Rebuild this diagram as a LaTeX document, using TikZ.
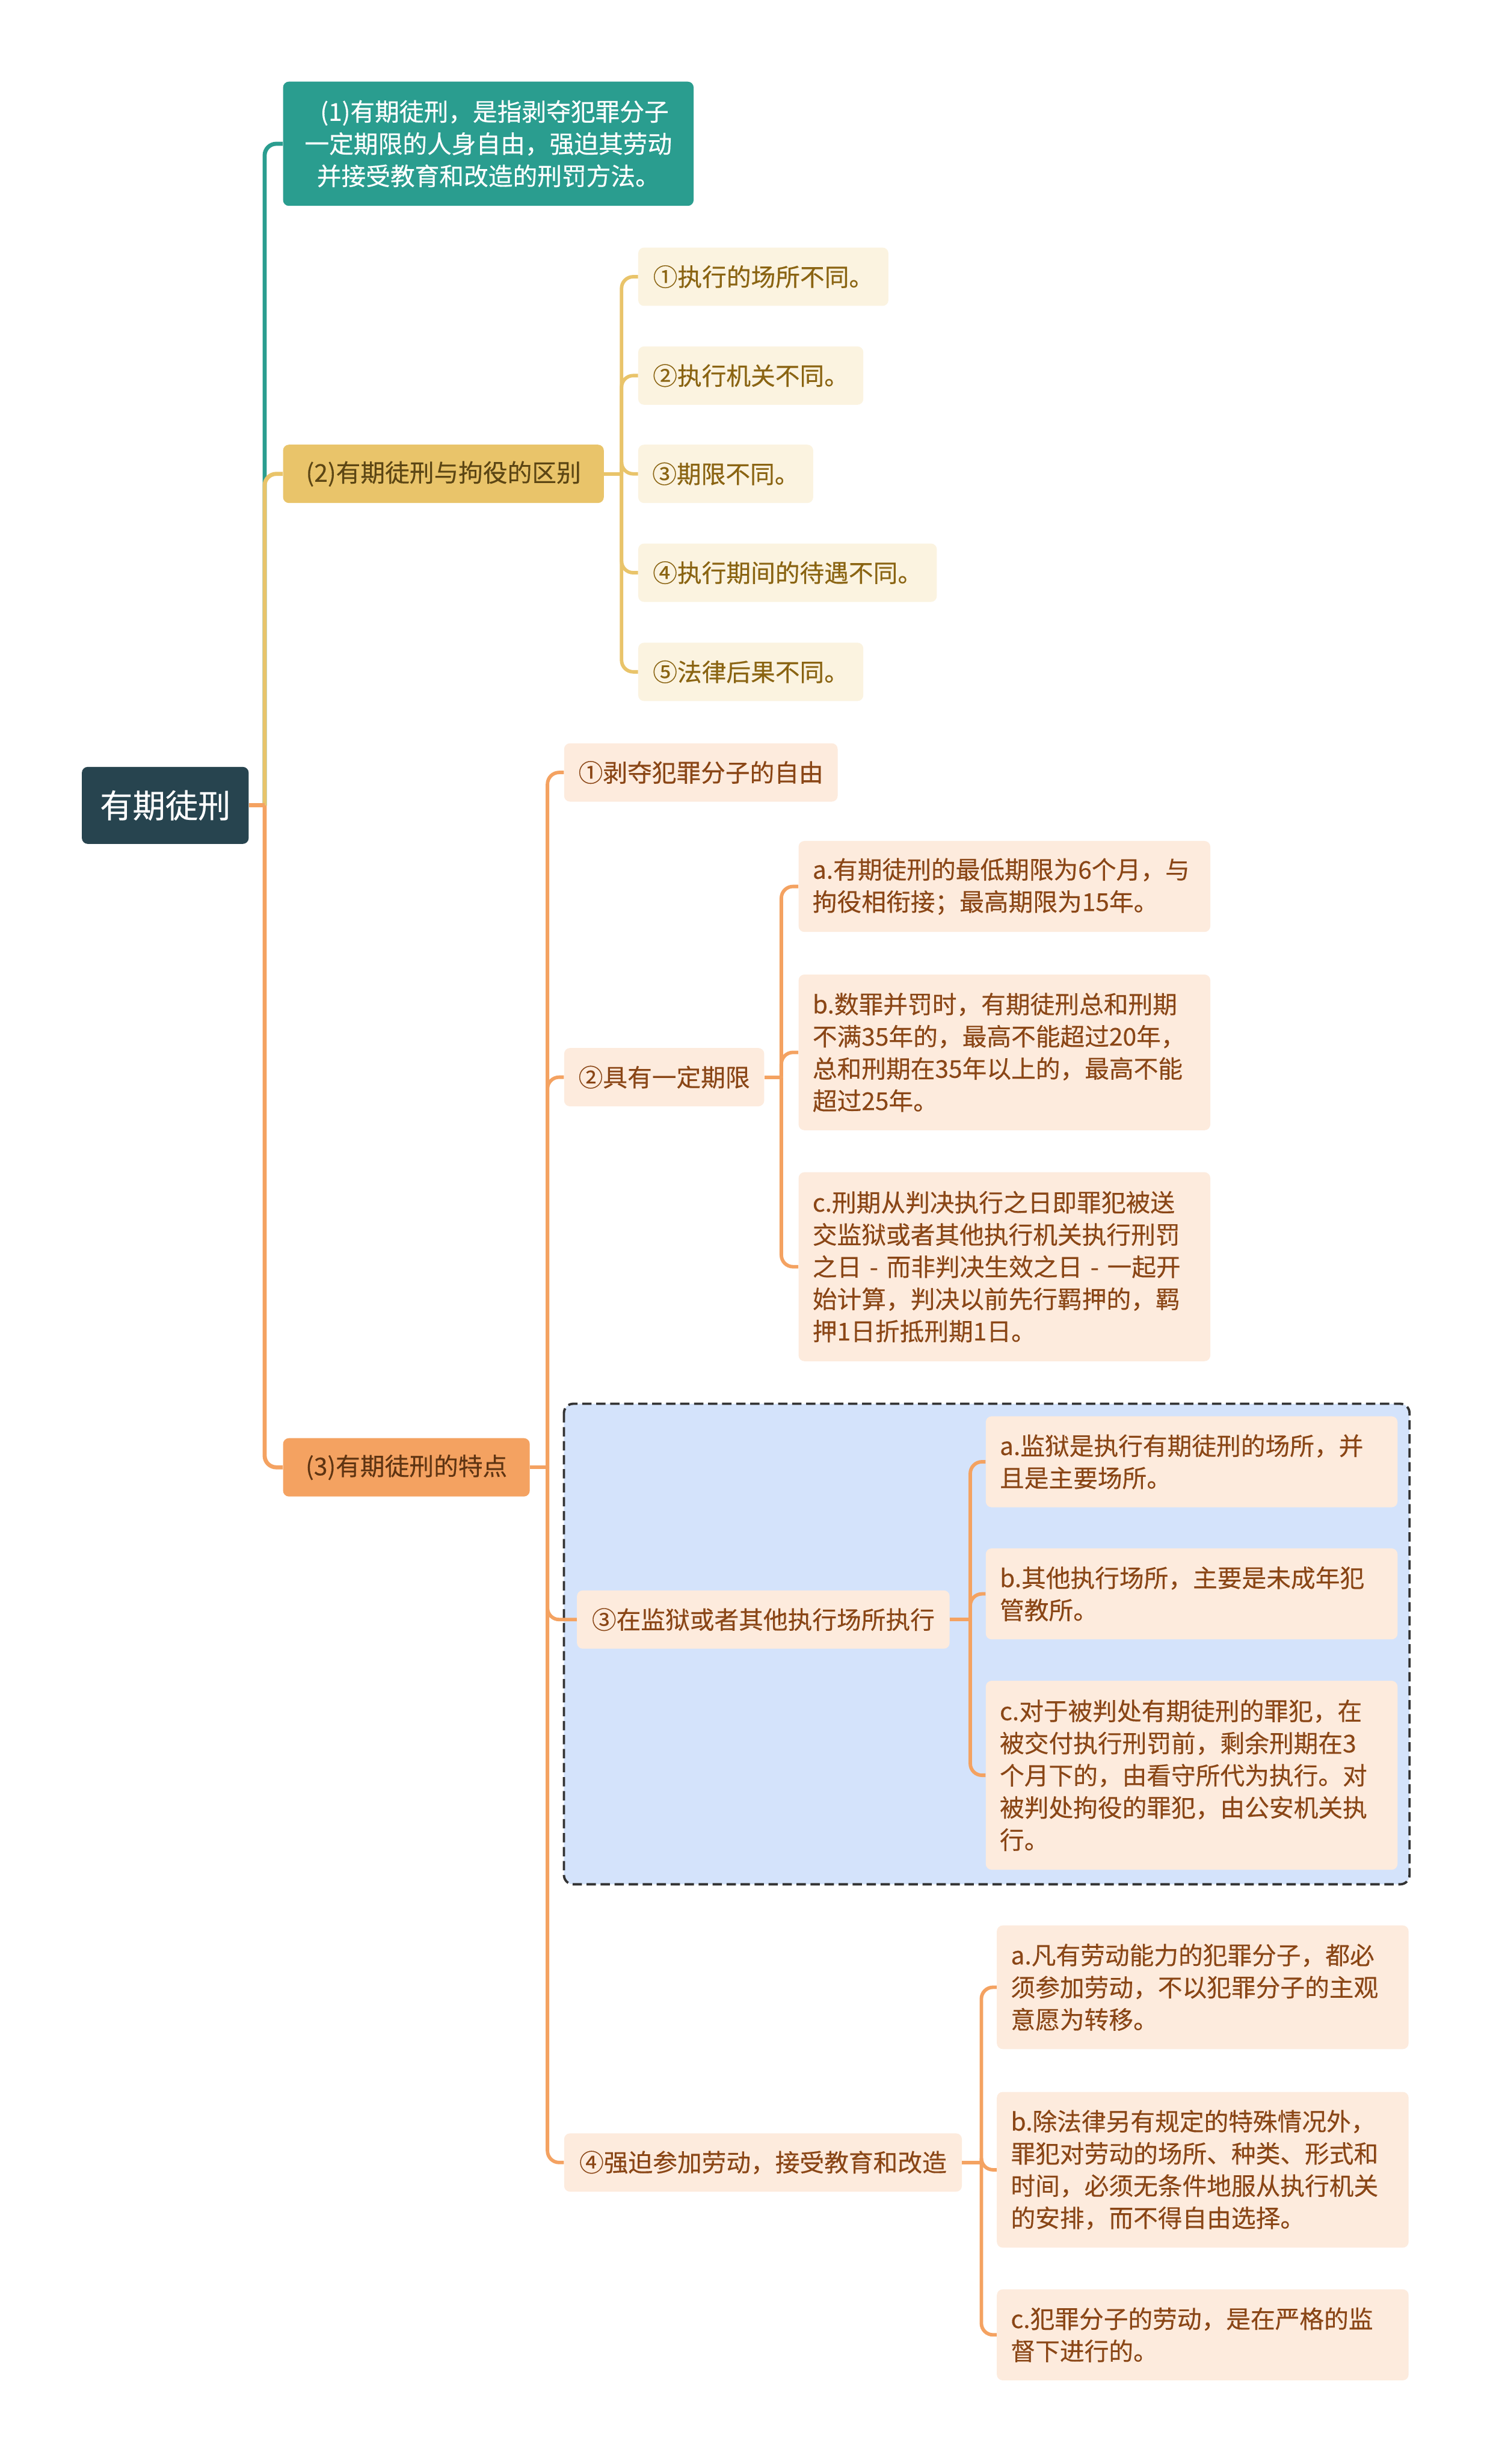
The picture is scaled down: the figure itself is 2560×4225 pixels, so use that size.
\documentclass[tikz,border=0pt]{standalone}
\usepackage{fontspec}
\setmainfont{Noto Sans CJK SC}[FakeBold=0.3]
\usepackage{xcolor}
\usetikzlibrary{positioning, calc}

\definecolor{rootc}{HTML}{27444F}
\definecolor{tealc}{HTML}{2A9D8F}
\definecolor{goldc}{HTML}{E9C46A}
\definecolor{orangec}{HTML}{F4A261}
\definecolor{creamc}{HTML}{FBF3E0}
\definecolor{peachc}{HTML}{FDEBDD}
\definecolor{goldtxt}{HTML}{5C4614}
\definecolor{creamtxt}{HTML}{8A6412}
\definecolor{orangetxt}{HTML}{5E3412}
\definecolor{peachtxt}{HTML}{8A4616}
\definecolor{groupc}{HTML}{D4E3FB}
\definecolor{framec}{HTML}{333333}

\begin{document}
\begin{tikzpicture}[
    x=0.5pt, y=-0.5pt,
    base/.style={rectangle, rounded corners=5pt, inner xsep=12pt, inner ysep=0pt, anchor=west,
                 font=\fontsize{21}{27.6}\selectfont},
    rootbox/.style={base, fill=rootc, text=white, font=\fontsize{28}{34}\selectfont,
                    minimum width=143pt, minimum height=66pt},
    tealbox/.style={base, fill=tealc, text=white, align=center, text width=328pt, minimum height=106.5pt},
    goldbox/.style={base, fill=goldc, text=goldtxt, minimum width=275pt, minimum height=50pt},
    orangebox/.style={base, fill=orangec, text=orangetxt, minimum width=211.5pt, minimum height=50pt},
    creambox/.style={base, fill=creamc, text=creamtxt, minimum height=50pt},
    peachbox/.style={base, fill=peachc, text=peachtxt, minimum height=50pt},
    leaf/.style={peachbox, align=left, text width=329pt},
    lines2/.style={minimum height=78pt},
    lines3/.style={minimum height=106pt},
    lines4/.style={minimum height=133.5pt},
    lines5/.style={minimum height=162pt},
    link/.style={line width=3.5pt, rounded corners=10pt},
    sublink/.style={line width=3pt, rounded corners=10pt},
    groupbox/.style={draw=framec, fill=groupc, line width=2pt, dash pattern=on 8pt off 4pt, rounded corners=8pt}
]
\fill[white] (0,0) rectangle (2560,4225);

% frame round item 3
\draw[groupbox] (967,2407) rectangle (2417,3231);

% root and main branches
\node[rootbox] (root) at (140,1381) {有期徒刑};
\node[tealbox] (d1) at (485,246.5) {\hspace*{0.5em}(1)有期徒刑，是指剥夺犯罪分子\\一定期限的人身自由，强迫其劳动\\并接受教育和改造的刑罚方法。};
\node[goldbox] (d2) at (485,812.5) {(2)有期徒刑与拘役的区别};
\node[orangebox] (d3) at (485,2516) {(3)有期徒刑的特点};

% differences
\node[creambox, minimum width=214.5pt] (g1) at (1094,474.5) {①执行的场所不同。};
\node[creambox, minimum width=193pt] (g2) at (1094,644) {②执行机关不同。};
\node[creambox, minimum width=149.5pt] (g3) at (1094,812.5) {③期限不同。};
\node[creambox, minimum width=256pt] (g4) at (1094,982) {④执行期间的待遇不同。};
\node[creambox, minimum width=193pt] (g5) at (1094,1152) {⑤法律后果不同。};

% features
\node[peachbox, minimum width=234.5pt] (p1) at (967,1324.5) {①剥夺犯罪分子的自由};
\node[peachbox, minimum width=171.5pt] (p2) at (967,1847) {②具有一定期限};
\node[peachbox, minimum width=319.5pt] (p3) at (989,2777) {③在监狱或者其他执行场所执行};
\node[peachbox, minimum width=341pt] (p4) at (967,3708) {④强迫参加劳动，接受教育和改造};

\node[leaf, lines2] (p2a) at (1369,1520) {a.有期徒刑的最低期限为6个月，与\\拘役相衔接；最高期限为15年。};
\node[leaf, lines4] (p2b) at (1369,1804.5) {b.数罪并罚时，有期徒刑总和刑期\\不满35年的，最高不能超过20年，\\总和刑期在35年以上的，最高不能\\超过25年。};
\node[leaf, lines5] (p2c) at (1369,2172) {c.刑期从判决执行之日即罪犯被送\\交监狱或者其他执行机关执行刑罚\\之日~-~而非判决生效之日~-~一起开\\始计算，判决以前先行羁押的，羁\\押1日折抵刑期1日。};

\node[leaf, lines2] (p3a) at (1690,2506.5) {a.监狱是执行有期徒刑的场所，并\\且是主要场所。};
\node[leaf, lines2] (p3b) at (1690,2733) {b.其他执行场所，主要是未成年犯\\管教所。};
\node[leaf, lines5] (p3c) at (1690,3044) {c.对于被判处有期徒刑的罪犯，在\\被交付执行刑罚前，剩余刑期在3\\个月下的，由看守所代为执行。对\\被判处拘役的罪犯，由公安机关执\\行。};

\node[leaf, lines3] (p4a) at (1709,3407.5) {a.凡有劳动能力的犯罪分子，都必\\须参加劳动，不以犯罪分子的主观\\意愿为转移。};
\node[leaf, lines4] (p4b) at (1709,3720.5) {b.除法律另有规定的特殊情况外，\\罪犯对劳动的场所、种类、形式和\\时间，必须无条件地服从执行机关\\的安排，而不得自由选择。};
\node[leaf, lines2] (p4c) at (1709,4003.5) {c.犯罪分子的劳动，是在严格的监\\督下进行的。};

% connectors
\coordinate (jr) at ($(root.east)+(27,0)$);
\coordinate (jg) at ($(d2.east)+(30,0)$);
\coordinate (jo) at ($(d3.east)+(30,0)$);
\coordinate (j2) at ($(p2.east)+(29,0)$);
\coordinate (j3) at ($(p3.east)+(35,0)$);
\coordinate (j4) at ($(p4.east)+(33,0)$);

\draw[link, tealc] (jr) |- (d1.west);
\draw[link, goldc] (jr) |- (d2.west);
\draw[link, orangec] (jr) |- (d3.west);
\draw[link, orangec] (root.east) -- (jr);

\draw[sublink, goldc] (d2.east) -- (jg);
\foreach \n in {g1,g2,g3,g4,g5}
  \draw[sublink, goldc] (jg) |- (\n.west);

\draw[sublink, orangec] (d3.east) -- (jo);
\foreach \n in {p1,p2,p3,p4}
  \draw[sublink, orangec] (jo) |- (\n.west);

\draw[sublink, orangec] (p2.east) -- (j2);
\foreach \n in {p2a,p2b,p2c}
  \draw[sublink, orangec] (j2) |- (\n.west);

\draw[sublink, orangec] (p3.east) -- (j3);
\foreach \n in {p3a,p3b,p3c}
  \draw[sublink, orangec] (j3) |- (\n.west);

\draw[sublink, orangec] (p4.east) -- (j4);
\foreach \n in {p4a,p4b,p4c}
  \draw[sublink, orangec] (j4) |- (\n.west);
\end{tikzpicture}
\end{document}
